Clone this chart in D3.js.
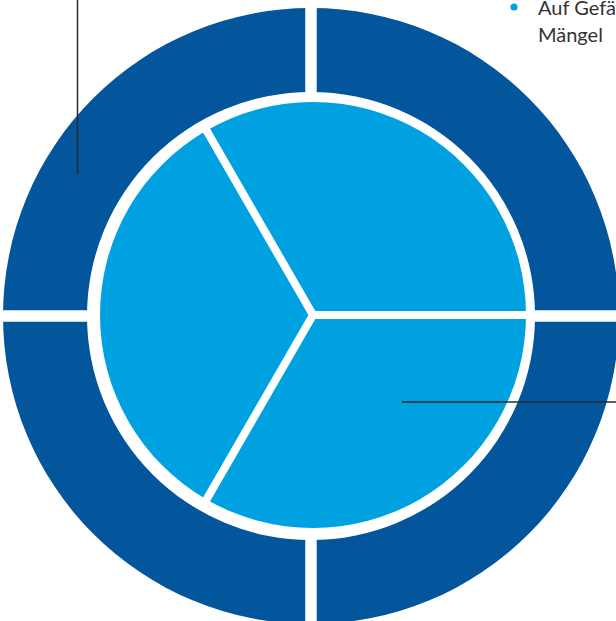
<!DOCTYPE html>
<html>
<head>
<meta charset="utf-8">
<script src="https://cdn.jsdelivr.net/npm/d3@7"></script>
<style>
  body { margin: 0; background: #fff; overflow: hidden; }
  svg { display: block; }
  .note { font-family: Lato, "Open Sans", sans-serif; font-size: 20px; fill: #333; }
</style>
</head>
<body>
<div id="chart"></div>
<script>
// outer ring: four equal quarters
const ringSegments = ["Q1", "Q2", "Q3", "Q4"];
const ringValues = [1, 1, 1, 1];
// inner pie: three equal slices
const pieSegments = ["A", "B", "C"];
const pieValues = [1, 1, 1];
const noteLines = ["Auf Gefährdungen", "Mängel"];

const width = 616, height = 621;
const cx = 311, cy = 316;
const ringOuter = 308, ringInner = 224, pieR = 213;
const darkBlue = "#03559c", lightBlue = "#00a1e0";

const svg = d3.select("#chart").append("svg")
  .attr("width", width)
  .attr("height", height);

const g = svg.append("g").attr("transform", `translate(${cx},${cy})`);

// ring
const ringPie = d3.pie().sort(null).value(d => d);
const ringArc = d3.arc().innerRadius(ringInner).outerRadius(ringOuter);
g.selectAll("path.ring")
  .data(ringPie(ringValues))
  .join("path")
  .attr("class", "ring")
  .attr("d", ringArc)
  .attr("fill", darkBlue);

ringPie(ringValues).forEach(d => {
  const a = d.startAngle;
  g.append("line")
    .attr("x1", Math.sin(a) * (ringInner - 5))
    .attr("y1", -Math.cos(a) * (ringInner - 5))
    .attr("x2", Math.sin(a) * (ringOuter + 5))
    .attr("y2", -Math.cos(a) * (ringOuter + 5))
    .attr("stroke", "#fff")
    .attr("stroke-width", 11.5);
});

// inner pie
const innerPie = d3.pie().sort(null).value(d => d)
  .startAngle(-Math.PI / 6).endAngle(2 * Math.PI - Math.PI / 6);
const pieArc = d3.arc().innerRadius(0).outerRadius(pieR);
const pg = g.append("g").attr("transform", "translate(2,-1)");
pg.selectAll("path.slice")
  .data(innerPie(pieValues))
  .join("path")
  .attr("class", "slice")
  .attr("d", pieArc)
  .attr("fill", lightBlue);

innerPie(pieValues).forEach(d => {
  const a = d.startAngle;
  pg.append("line")
    .attr("x1", 0).attr("y1", 0)
    .attr("x2", Math.sin(a) * (pieR + 2))
    .attr("y2", -Math.cos(a) * (pieR + 2))
    .attr("stroke", "#fff")
    .attr("stroke-width", 8)
    .attr("stroke-linecap", "round");
});

// leader lines
svg.append("line")
  .attr("x1", 77.5).attr("y1", 0).attr("x2", 77.5).attr("y2", 174)
  .attr("stroke", "#2b2b2b").attr("stroke-width", 1.5);
svg.append("line")
  .attr("x1", 402).attr("y1", 402).attr("x2", 616).attr("y2", 402)
  .attr("stroke", "#2b2b2b").attr("stroke-width", 1.5);

// note text (runs off the right edge, as in the source)
svg.append("circle").attr("cx", 514).attr("cy", 7).attr("r", 3.6).attr("fill", lightBlue);
svg.selectAll("text.note")
  .data(noteLines)
  .join("text")
  .attr("class", "note")
  .attr("x", 538)
  .attr("y", (d, i) => 15 + i * 27)
  .text(d => d);
</script>
</body>
</html>
